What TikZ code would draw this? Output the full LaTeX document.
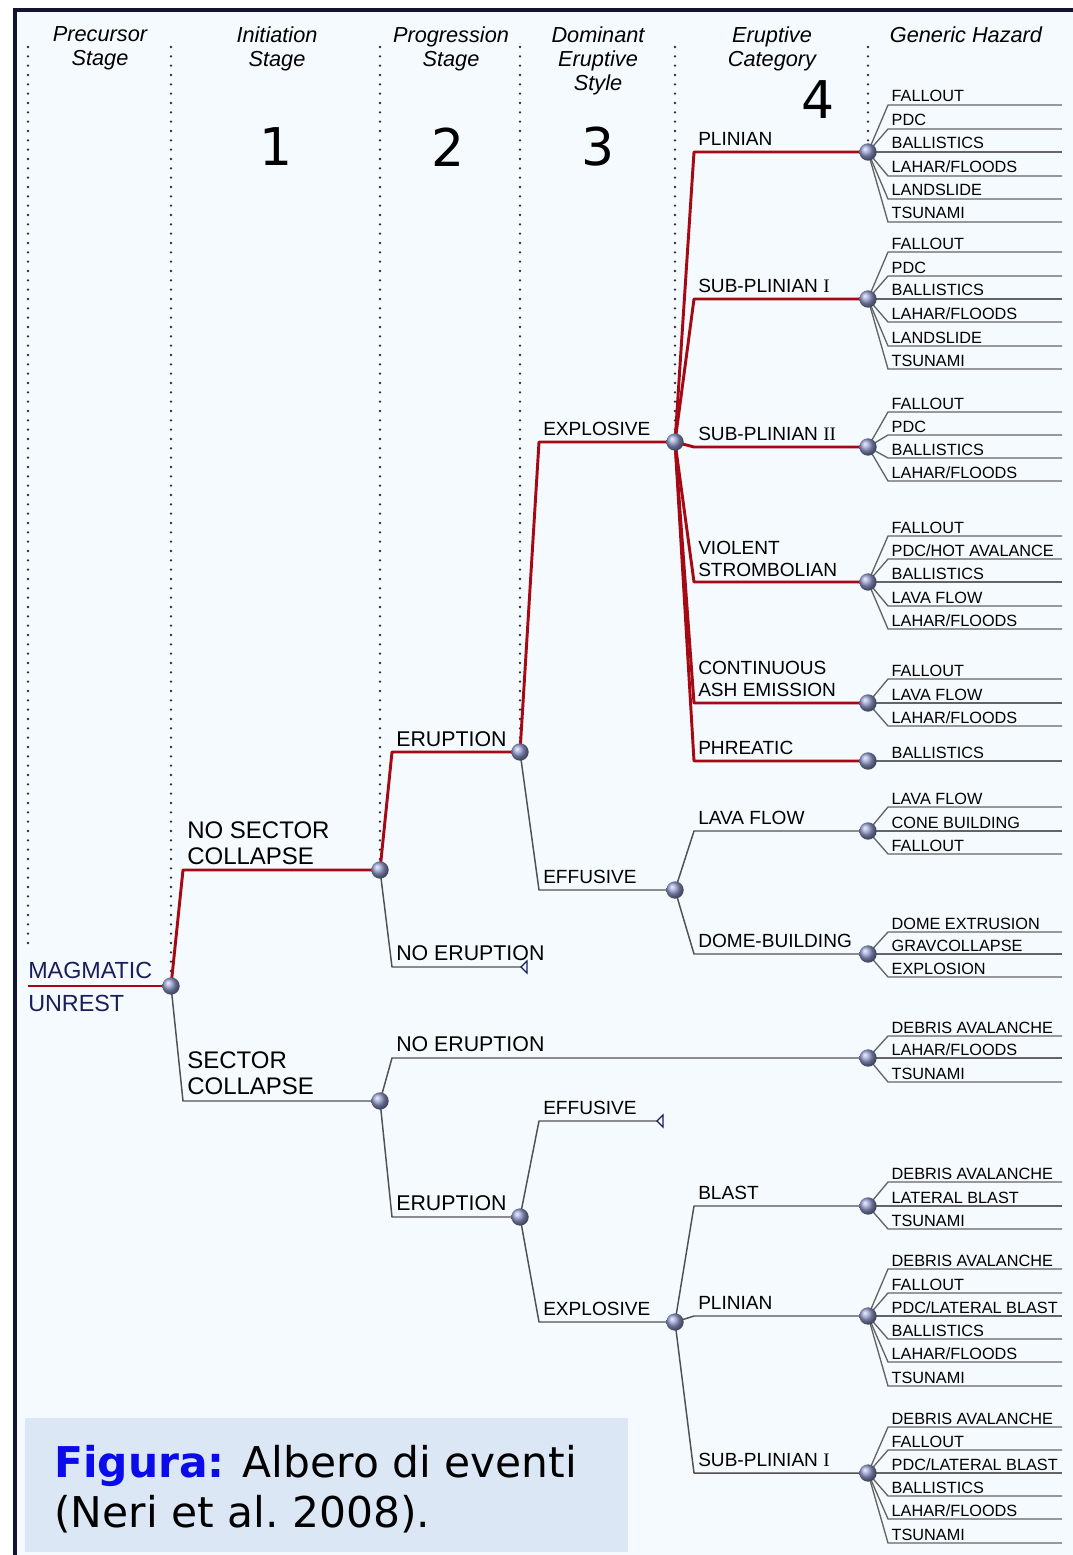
\documentclass[tikz,border=0pt]{standalone}
\usepackage{fontspec}
\setmainfont{Liberation Sans}
\newfontfamily\vera{DejaVu Sans}
\newfontfamily\romnum{Liberation Serif}
\usetikzlibrary{positioning,calc}
\definecolor{paper}{RGB}{245,250,254}
\definecolor{framecol}{RGB}{20,20,50}
\definecolor{treered}{RGB}{165,10,20}
\definecolor{branch}{RGB}{80,80,80}
\definecolor{leafgray}{RGB}{100,100,100}
\definecolor{dotgray}{RGB}{45,45,55}
\definecolor{navy}{RGB}{25,30,90}
\definecolor{ballblue}{RGB}{145,155,205}
\definecolor{capbox}{RGB}{220,231,245}
\definecolor{figblue}{RGB}{10,10,235}
\pgfdeclarelayer{back}
\pgfsetlayers{back,main}
\tikzset{
    junction/.style={circle, inner sep=0pt, minimum size=13pt, shading=ball, ball color=ballblue},
    active/.style={treered, line width=2.2pt, line join=round},
    inactive/.style={branch, line width=1.1pt, line join=round},
    leafline/.style={leafgray, line width=1pt},
    colline/.style={dotgray, line width=1.9pt, line cap=round, dash pattern=on 0pt off 7pt},
    elbow/.style={to path={-- ($(\tikztostart |- \tikztotarget)+(#1,0)$) -- (\tikztotarget)}},
    elbow/.default=12,
    header/.style={font=\fontsize{16.3}{18}\selectfont\itshape, align=center, anchor=north, inner sep=0pt},
    stagenum/.style={font=\vera\fontsize{39}{39}\selectfont},
    bigtag/.style={font=\fontsize{18}{19.5}\selectfont, align=left, anchor=south west, inner sep=0pt},
    midtag/.style={font=\fontsize{16}{18}\selectfont, anchor=south west, inner sep=0pt},
    evtag/.style={font=\fontsize{14.3}{16.5}\selectfont, align=left, anchor=south west, inner sep=0pt},
    hazard/.style={font=\fontsize{12.2}{14}\selectfont, text=black, anchor=base west, inner sep=0pt},
    endmark/.style={navy, line width=1pt, line join=miter},
    caption/.style={font=\vera\fontsize{31.8}{37.5}\selectfont, anchor=base west, inner sep=0pt},
}
\begin{document}
\begin{tikzpicture}[x=0.75pt,y=-0.75pt]
    \useasboundingbox (0,0) rectangle (1073,1555);

    % Branch points
    \coordinate (start) at (28,986);
    \node[junction] (mu) at (171,986) {};
    \node[junction] (nsc) at (380,870) {};
    \node[junction] (sc) at (380,1101) {};
    \node[junction] (er) at (520,752) {};
    \node[junction] (scer) at (520,1217) {};
    \node[junction] (ex) at (675,442) {};
    \node[junction] (ef) at (675,890) {};
    \node[junction] (scex) at (675,1322) {};
    \coordinate (neend) at (521,967);
    \coordinate (scefend) at (657,1121);

    % Eruptive categories
    \node[junction] (pl) at (868,152) {};
    \node[junction] (spa) at (868,299) {};
    \node[junction] (spb) at (868,447) {};
    \node[junction] (vs) at (868,582) {};
    \node[junction] (cae) at (868,703) {};
    \node[junction] (ph) at (868,761) {};
    \node[junction] (lf) at (868,831) {};
    \node[junction] (db) at (868,954) {};
    \node[junction] (scne) at (868,1058) {};
    \node[junction] (bl) at (868,1206) {};
    \node[junction] (scpl) at (868,1316) {};
    \node[junction] (scsp) at (868,1473) {};

    \begin{pgfonlayer}{back}
    % Paper and frame
    \fill[paper] (15,10) rectangle (1073,1555);
    \draw[framecol, line width=2.3pt] (15,1555) -- (15,10) -- (1073,10);
    \fill[capbox] (25,1418) rectangle (628,1552);

    % Column separators
    \draw[colline] (28,47) -- (28,952);
    \draw[colline] (171,47) -- (171,978);
    \draw[colline] (380,47) -- (380,862);
    \draw[colline] (520,47) -- (520,744);
    \draw[colline] (675,47) -- (675,434);
    \draw[colline] (868,47) -- (868,144);

    % Most likely path
    \draw[active] (start) -- (mu.center);
    \draw[active] (mu.center) to[elbow] (nsc.center);
    \draw[active] (nsc.center) to[elbow] (er.center);
    \draw[active] (er.center) to[elbow=19] (ex.center);
    \foreach \cat in {pl,spa,spb,vs,cae,ph}
        \draw[active] (ex.center) to[elbow=19] (\cat.center);

    % Other branches
    \draw[inactive] (mu.center) to[elbow] (sc.center);
    \draw[inactive] (nsc.center) to[elbow] (neend);
    \draw[inactive] (er.center) to[elbow=19] (ef.center);
    \draw[inactive] (ef.center) to[elbow=19] (lf.center);
    \draw[inactive] (ef.center) to[elbow=19] (db.center);
    \draw[inactive] (sc.center) to[elbow] (scne.center);
    \draw[inactive] (sc.center) to[elbow] (scer.center);
    \draw[inactive] (scer.center) to[elbow=19] (scefend);
    \draw[inactive] (scer.center) to[elbow=19] (scex.center);
    \draw[inactive] (scex.center) to[elbow=19] (bl.center);
    \draw[inactive] (scex.center) to[elbow=19] (scpl.center);
    \draw[inactive] (scex.center) to[elbow=19] (scsp.center);

    % Terminal marks
    \draw[endmark] (neend) -- ++(6,-6) -- ++(0,12) -- cycle;
    \draw[endmark] (scefend) -- ++(6,-6) -- ++(0,12) -- cycle;

    % Generic hazards
    \foreach \y/\hz in {105/FALLOUT, 129/PDC, 152/BALLISTICS, 176/{LAHAR/FLOODS}, 199/LANDSLIDE, 222/TSUNAMI}
        \draw[leafline] (pl.center) to[elbow=20] (1062,\y) node[hazard] at (891,\y-3) {\hz};
    \foreach \y/\hz in {252/FALLOUT, 276/PDC, 299/BALLISTICS, 322/{LAHAR/FLOODS}, 346/LANDSLIDE, 369/TSUNAMI}
        \draw[leafline] (spa.center) to[elbow=20] (1062,\y) node[hazard] at (891,\y-3) {\hz};
    \foreach \y/\hz in {412/FALLOUT, 435/PDC, 458/BALLISTICS, 481/{LAHAR/FLOODS}}
        \draw[leafline] (spb.center) to[elbow=20] (1062,\y) node[hazard] at (891,\y-3) {\hz};
    \foreach \y/\hz in {536/FALLOUT, 559/{PDC/HOT AVALANCE}, 582/BALLISTICS, 606/LAVA FLOW, 629/{LAHAR/FLOODS}}
        \draw[leafline] (vs.center) to[elbow=20] (1062,\y) node[hazard] at (891,\y-3) {\hz};
    \foreach \y/\hz in {679/FALLOUT, 703/LAVA FLOW, 726/{LAHAR/FLOODS}}
        \draw[leafline] (cae.center) to[elbow=20] (1062,\y) node[hazard] at (891,\y-3) {\hz};
    \draw[leafline] (ph.center) -- (1062,761) node[hazard] at (891,758) {BALLISTICS};
    \foreach \y/\hz in {807/LAVA FLOW, 831/CONE BUILDING, 854/FALLOUT}
        \draw[leafline] (lf.center) to[elbow=20] (1062,\y) node[hazard] at (891,\y-3) {\hz};
    \foreach \y/\hz in {932/DOME EXTRUSION, 954/GRAVCOLLAPSE, 977/EXPLOSION}
        \draw[leafline] (db.center) to[elbow=20] (1062,\y) node[hazard] at (891,\y-3) {\hz};
    \foreach \y/\hz in {1036/DEBRIS AVALANCHE, 1058/{LAHAR/FLOODS}, 1082/TSUNAMI}
        \draw[leafline] (scne.center) to[elbow=20] (1062,\y) node[hazard] at (891,\y-3) {\hz};
    \foreach \y/\hz in {1182/DEBRIS AVALANCHE, 1206/LATERAL BLAST, 1229/TSUNAMI}
        \draw[leafline] (bl.center) to[elbow=20] (1062,\y) node[hazard] at (891,\y-3) {\hz};
    \foreach \y/\hz in {1269/DEBRIS AVALANCHE, 1293/FALLOUT, 1316/{PDC/LATERAL BLAST}, 1339/BALLISTICS, 1362/{LAHAR/FLOODS}, 1386/TSUNAMI}
        \draw[leafline] (scpl.center) to[elbow=20] (1062,\y) node[hazard] at (891,\y-3) {\hz};
    \foreach \y/\hz in {1427/DEBRIS AVALANCHE, 1450/FALLOUT, 1473/{PDC/LATERAL BLAST}, 1496/BALLISTICS, 1519/{LAHAR/FLOODS}, 1543/TSUNAMI}
        \draw[leafline] (scsp.center) to[elbow=20] (1062,\y) node[hazard] at (891,\y-3) {\hz};
    \end{pgfonlayer}

    % Column headers
    \node[header] (hpre) at (100,26) {Precursor\\Stage};
    \node[header] (hini) at (277,26) {Initiation\\Stage};
    \node[header] (hpro) at (451,26) {Progression\\Stage};
    \node[header] (hdom) at (598,26) {Dominant\\Eruptive\\Style};
    \node[header] (hcat) at (772,26) {Eruptive\\Category};
    \node[header] (hhaz) at (966,26) {Generic Hazard};

    % Stage numbers
    \node[stagenum] (n1) at (276,147) {1};
    \node[stagenum] (n2) at (448,147) {2};
    \node[stagenum] (n3) at (598,147) {3};
    \node[stagenum] (n4) at (818,100) {4};

    % Event labels
    \node[bigtag, text=navy, font=\fontsize{17.5}{19}\selectfont] (lmag) at (28,979) {MAGMATIC};
    \node[bigtag, text=navy, font=\fontsize{17.5}{19}\selectfont, anchor=base west] (lunr) at (28,1011) {UNREST};
    \node[bigtag] (lnsc) at (187,865) {NO SECTOR\\COLLAPSE};
    \node[bigtag] (lsc) at (187,1095) {SECTOR\\COLLAPSE};
    \node[midtag] (ler) at (396,747) {ERUPTION};
    \node[midtag] (lne) at (396,961) {NO ERUPTION};
    \node[midtag] (lscne) at (396,1052) {NO ERUPTION};
    \node[midtag] (lscer) at (396,1211) {ERUPTION};
    \node[evtag] (lex) at (543,436) {EXPLOSIVE};
    \node[evtag] (lef) at (543,884) {EFFUSIVE};
    \node[evtag] (lscef) at (543,1115) {EFFUSIVE};
    \node[evtag] (lscex) at (543,1316) {EXPLOSIVE};

    % Category labels
    \node[evtag] (lpl) at (698,146) {PLINIAN};
    \node[evtag] (lspa) at (698,293) {SUB-PLINIAN {\romnum I}};
    \node[evtag] (lspb) at (698,441) {SUB-PLINIAN {\romnum II}};
    \node[evtag] (lvs) at (698,577) {VIOLENT\\STROMBOLIAN};
    \node[evtag] (lcae) at (698,697) {CONTINUOUS\\ASH EMISSION};
    \node[evtag] (lph) at (698,755) {PHREATIC};
    \node[evtag] (llf) at (698,825) {LAVA FLOW};
    \node[evtag] (ldb) at (698,948) {DOME-BUILDING};
    \node[evtag] (lbl) at (698,1200) {BLAST};
    \node[evtag] (lscpl) at (698,1310) {PLINIAN};
    \node[evtag] (lscsp) at (698,1467) {SUB-PLINIAN {\romnum I}};

    % Caption
    \node[caption] (cap1) at (54,1477) {{\bfseries\color{figblue}Figura:} Albero di eventi};
    \node[caption] (cap2) at (54,1527) {(Neri et al.\ 2008).};
\end{tikzpicture}
\end{document}
